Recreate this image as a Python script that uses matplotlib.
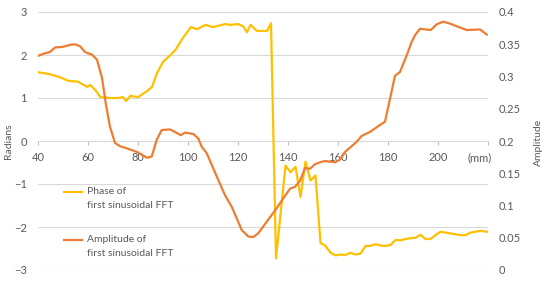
import matplotlib
matplotlib.use("Agg")
import matplotlib.pyplot as plt
from matplotlib.lines import Line2D
import numpy as np

plt.rcParams['font.family'] = ['Lato', 'DejaVu Sans']

# ---- data ----
phase_mm = [40, 45, 49, 52, 56, 59.6, 61, 63, 65, 69, 72, 74, 75.2, 77, 80, 83.6, 85.6,
            87.6, 90, 93, 95, 98, 101.2, 103.6, 107, 110, 115, 117, 120, 122, 123.6, 125,
            127.6, 131.6, 133.2, 135.2, 139, 141, 143, 145, 147, 149, 151, 153, 155, 157,
            159, 161, 163, 165, 167, 169, 171, 173, 175, 177, 179, 181, 183, 185, 187, 189,
            191, 193, 195, 197, 199, 201, 203, 205, 207, 209, 211, 213, 215, 217, 219.6]
phase_rad = [1.60, 1.55, 1.48, 1.40, 1.38, 1.26, 1.30, 1.18, 1.02, 1.00, 1.00, 1.02, 0.93,
             1.05, 1.02, 1.16, 1.26, 1.58, 1.84, 2.00, 2.12, 2.40, 2.65, 2.60, 2.70, 2.65,
             2.72, 2.70, 2.72, 2.67, 2.53, 2.70, 2.56, 2.56, 2.74, -2.73, -0.57, -0.73, -0.60,
             -1.30, -0.48, -0.92, -0.80, -2.37, -2.44, -2.60, -2.66, -2.64, -2.65, -2.60,
             -2.64, -2.62, -2.44, -2.44, -2.40, -2.43, -2.44, -2.42, -2.30, -2.31, -2.28,
             -2.26, -2.25, -2.18, -2.28, -2.28, -2.19, -2.11, -2.13, -2.15, -2.17, -2.19,
             -2.19, -2.13, -2.11, -2.09, -2.11]

amp_mm = [40, 42.8, 44.8, 46.8, 50, 52.8, 54.8, 56.8, 58.8, 60, 61.6, 63.6, 65.6, 67.2,
          68.8, 70.8, 72.8, 76, 79.6, 83.6, 85.5, 87.5, 89.5, 92.8, 94.8, 97.1, 98.8, 102.1,
          104.1, 105.5, 107.5, 111.5, 114.8, 117.5, 121.5, 124.1, 126.1, 128.1, 132.1, 135.5,
          138.1, 140.8, 142.8, 144.8, 146.8, 148.8, 150.8, 152.8, 154.8, 156.8, 158.8, 160.8,
          162.8, 165.5, 167.5, 169.5, 172.8, 176.1, 178.8, 180.1, 182.8, 184.8, 187.5, 189.5,
          190.8, 192.8, 197.1, 199.5, 202.1, 204.8, 208.8, 211.5, 216.8, 219.5]
amp_val = [0.332, 0.336, 0.338, 0.345, 0.346, 0.349, 0.350, 0.347, 0.338, 0.336, 0.334,
           0.326, 0.298, 0.256, 0.222, 0.197, 0.192, 0.188, 0.183, 0.174, 0.176, 0.202,
           0.217, 0.218, 0.214, 0.209, 0.213, 0.211, 0.204, 0.191, 0.181, 0.145, 0.116,
           0.098, 0.062, 0.052, 0.051, 0.057, 0.078, 0.096, 0.111, 0.126, 0.129, 0.138,
           0.158, 0.157, 0.164, 0.167, 0.169, 0.168, 0.167, 0.171, 0.183, 0.192, 0.199,
           0.208, 0.214, 0.223, 0.230, 0.253, 0.301, 0.307, 0.333, 0.354, 0.364, 0.374,
           0.372, 0.381, 0.385, 0.382, 0.376, 0.372, 0.373, 0.365]

x_ticks = [40, 60, 80, 100, 120, 140, 160, 180, 200]
x_labels = ['40', '60', '80', '100', '120', '140', '160', '180', '200']
rad_ticks = [-3, -2, -1, 0, 1, 2, 3]
rad_labels = ['\u22123', '\u22122', '\u22121', '0', '1', '2', '3']
amp_ticks = [0, 0.05, 0.1, 0.15, 0.2, 0.25, 0.3, 0.35, 0.4]
amp_labels = ['0', '0.05', '0.1', '0.15', '0.2', '0.25', '0.3', '0.35', '0.4']

YELLOW = '#FFC000'
ORANGE = '#ED7D31'
TXT = '#595959'
GRID = '#D9D9D9'
FS = 7.5
TFS = 8

W, H = 550, 283
fig = plt.figure(figsize=(W / 100, H / 100), dpi=100)
ax = fig.add_axes([38 / W, 1 - 270 / H, 450 / W, 258 / H])
ax.set_xlim(40, 220)
ax.set_ylim(-3, 3)
for s in ax.spines.values():
    s.set_visible(False)
ax.spines['bottom'].set_position(('data', 0))
ax.set_yticks(rad_ticks)
ax.set_yticklabels(rad_labels)
ax.set_xticks(x_ticks + [220])
ax.set_xticklabels(x_labels + [''])
ax.tick_params(axis='y', length=0, pad=8, labelsize=TFS, labelcolor=TXT)
ax.tick_params(axis='x', length=3, width=0.8, color='#BFBFBF', direction='out',
               pad=5, labelsize=TFS, labelcolor=TXT)
ax.yaxis.grid(True, color=GRID, lw=0.8)
ax.set_axisbelow(True)
ax.annotate('(mm)', xy=(216.8, 0), xytext=(0, -8), textcoords='offset points',
            ha='center', va='top', fontsize=TFS, color=TXT)

ax.plot(phase_mm, phase_rad, color=YELLOW, lw=1.6, solid_joinstyle='round')

ax2 = ax.twinx()
ax2.set_ylim(0, 0.4)
for s in ax2.spines.values():
    s.set_visible(False)
ax2.set_yticks(amp_ticks)
ax2.set_yticklabels(amp_labels)
ax2.tick_params(axis='y', length=0, pad=7.5, labelsize=TFS, labelcolor=TXT)
ax2.plot(amp_mm, amp_val, color=ORANGE, lw=1.6, solid_joinstyle='round')

fig.text(8 / W, 1 - 141 / H, 'Radians', rotation=90, ha='center', va='center',
         fontsize=FS, color=TXT)
fig.text(538 / W, 1 - 142 / H, 'Amplitude', rotation=90, ha='center', va='center',
         fontsize=FS, color=TXT)

# legend
for ycen, col, l1 in [(192, YELLOW, 'Phase of'), (240, ORANGE, 'Amplitude of')]:
    fig.add_artist(Line2D([64 / W, 82 / W], [1 - ycen / H, 1 - ycen / H], color=col, lw=1.6))
    fig.text(87 / W, 1 - ycen / H, l1, ha='left', va='center', fontsize=FS, color=TXT)
    fig.text(87 / W, 1 - (ycen + 13) / H, 'first sinusoidal FFT', ha='left', va='center',
             fontsize=FS, color=TXT)

fig.savefig('out.png', dpi=100)
